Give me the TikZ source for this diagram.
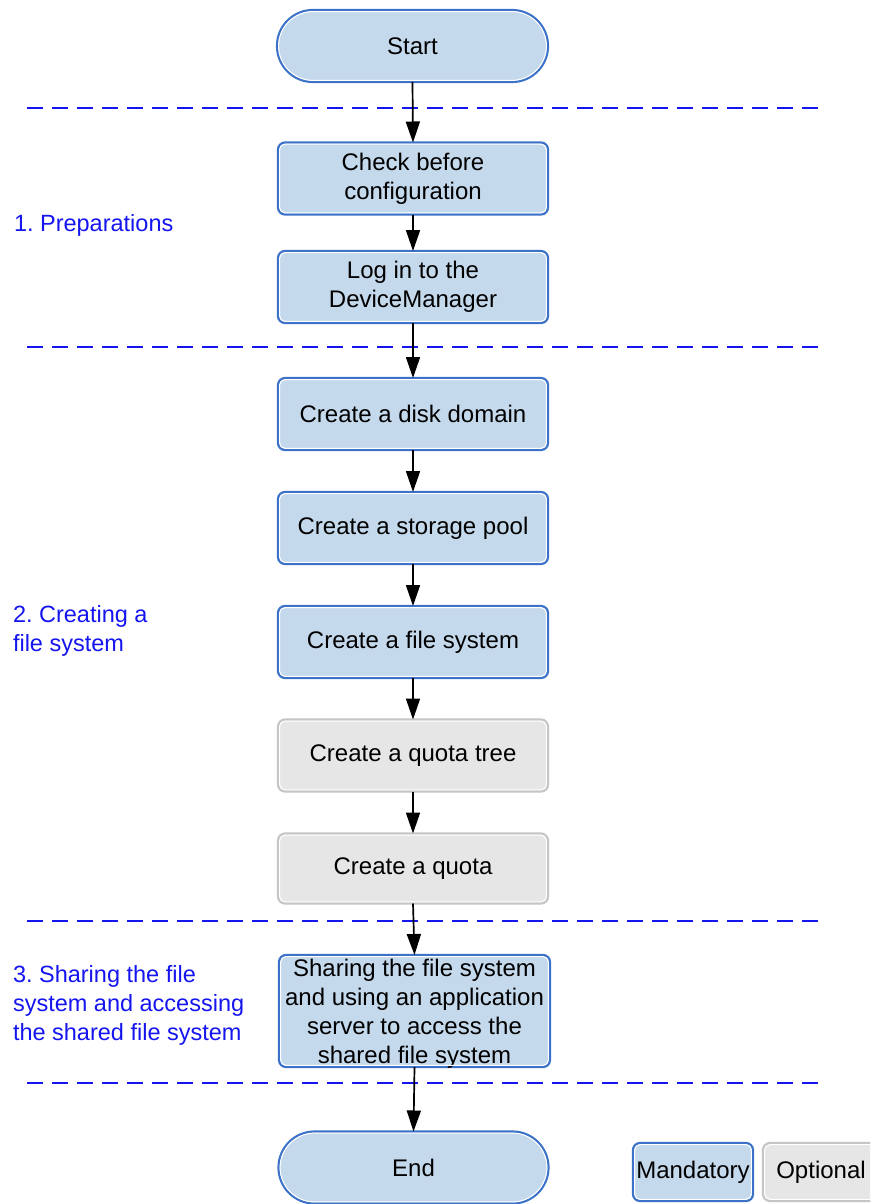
\documentclass[tikz,border=0pt]{standalone}
\usepackage{fontspec}
\setmainfont{Liberation Sans}
\usetikzlibrary{arrows.meta}
\definecolor{mandfill}{HTML}{C5D9EC}
\definecolor{mandline}{HTML}{3D72C9}
\definecolor{optfill}{HTML}{E6E6E6}
\definecolor{optline}{HTML}{C6C6C6}
\definecolor{phase}{HTML}{1515F0}
\frenchspacing
\begin{document}
\begin{tikzpicture}[x=1pt,y=-1pt,
  every node/.style={font=\fontsize{23.5}{29}\selectfont, inner sep=0pt, outer sep=0pt},
  mand/.style={draw=mandline, fill=mandfill, line width=2.2pt, rounded corners=7pt,
    minimum width=270pt, minimum height=72pt, align=center,
    font=\fontsize{24}{29}\selectfont},
  opt/.style={mand, draw=optline, fill=optfill},
  term/.style={mand, rounded corners=36pt},
  inset/.style={white, line width=1pt},
  flow/.style={-{Triangle[length=21pt,width=14pt]}, line width=1.7pt, black},
  phaseline/.style={draw=phase, line width=1.8pt, dash pattern=on 16pt off 9pt},
  phaselabel/.style={text=phase, anchor=west, align=left}
]
\clip (0,0) rectangle (870,1204);
\fill[white] (0,0) rectangle (870,1204);

% phase separators
\coordinate (d1l) at (27,108);  \coordinate (d1r) at (822,108);
\coordinate (d2l) at (27,347);  \coordinate (d2r) at (822,347);
\coordinate (d3l) at (27,921);  \coordinate (d3r) at (822,921);
\coordinate (d4l) at (27,1083); \coordinate (d4r) at (822,1083);
\draw[phaseline] (d1l) -- (d1r);
\draw[phaseline] (d2l) -- (d2r);
\draw[phaseline] (d3l) -- (d3r);
\draw[phaseline] (d4l) -- (d4r);

% phase labels
\node[phaselabel] (p1) at (14,225) {1. Preparations};
\node[phaselabel] (p2) at (13,631) {2. Creating a\\file system};
\node[phaselabel] (p3) at (13,1005) {3. Sharing the file\\system and accessing\\the shared file system};

% steps
\node[term, minimum width=271pt] (start) at (412.5,46) {Start};
\node[mand] (check) at (413,178.5) {Check before\\configuration};
\node[mand] (login) at (413,287) {Log in to the\\DeviceManager};
\node[mand] (disk) at (413,414) {Create a disk domain};
\node[mand] (pool) at (413,528) {Create a storage pool};
\node[mand] (fs) at (413,642) {Create a file system};
\node[opt] (qtree) at (413,755.5) {Create a quota tree};
\node[opt, minimum height=70pt] (quota) at (413,868.5) {Create a quota};
\node[mand, minimum width=271pt, minimum height=112pt] (share) at (414.5,1011)
  {\raisebox{-2.5pt}[\height][\depth]{\parbox{271pt}{\centering Sharing the file system\\and using an application\\server to access the\\shared file system}}};
\node[term] (end) at (413.5,1167.5) {End};

% legend
\node[mand, minimum width=120pt, minimum height=58pt] (legm) at (693,1172) {Mandatory};
\node[opt, minimum width=116pt, minimum height=58pt] (lego) at (821,1172) {Optional};

% inner white rims
\foreach \n in {check,login,disk,pool,fs,qtree,quota,share,legm,lego}
  \draw[inset, rounded corners=5.5pt] ([xshift=1.6pt,yshift=-1.6pt]\n.north west)
    rectangle ([xshift=-1.6pt,yshift=1.6pt]\n.south east);
\foreach \n in {start,end}
  \draw[inset, rounded corners=34.4pt] ([xshift=1.6pt,yshift=-1.6pt]\n.north west)
    rectangle ([xshift=-1.6pt,yshift=1.6pt]\n.south east);

% flow
\draw[flow] (start.south) -- (check.north);
\draw[flow] (check.south) -- (login.north);
\draw[flow] (login.south) -- (disk.north);
\draw[flow] (disk.south) -- (pool.north);
\draw[flow] (pool.south) -- (fs.north);
\draw[flow] (fs.south) -- (qtree.north);
\draw[flow] (qtree.south) -- (quota.north);
\draw[flow] (quota.south) -- (share.north);
\draw[flow] (share.south) -- (end.north);
\end{tikzpicture}
\end{document}
